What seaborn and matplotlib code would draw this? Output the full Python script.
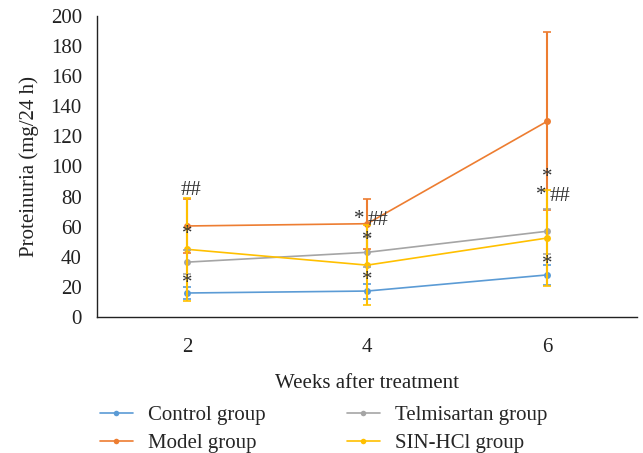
import matplotlib
matplotlib.use("Agg")
import matplotlib.pyplot as plt
import seaborn as sns
import pandas as pd

weeks = [2, 4, 6]
groups = ["Control group", "Model group", "Telmisartan group", "SIN-HCl group"]
control = [16, 17.3, 28]
model = [60.5, 62, 130]
telmisartan = [36.5, 43, 57]
sin_hcl = [45, 34.5, 52.5]
control_err = [4, 5, 6.5]
model_err = [18, 16.5, 59]
telmisartan_err = [8, 10, 15]
sin_hcl_err = [34, 26.5, 32]
colors = ["#5B9BD5", "#ED7D31", "#A5A5A5", "#FFC000"]

# significance annotations
annot_x = [2, 2, 2, 4, 4, 4, 4, 6, 6, 6, 6]
annot_y = [84, 55, 22, 65, 64, 51, 24, 93, 81, 80, 35]
annot_t = ["##", "*", "*", "*", "##", "*", "*", "*", "*", "##", "*"]
annot_dx = [3, 0, 0, -6, 8, 0, 0, 0, -4, 9, 0]  # offsets in points

means = [control, model, telmisartan, sin_hcl]
errs = [control_err, model_err, telmisartan_err, sin_hcl_err]

rows = []
for g, vals in zip(groups, means):
    for w, v in zip(weeks, vals):
        rows.append({"week": w, "value": v, "group": g})
df = pd.DataFrame(rows)

sns.set_style("white")
plt.rcParams["font.family"] = ["Liberation Serif", "DejaVu Serif"]

fig = plt.figure(figsize=(6.43, 4.53), dpi=100)
ax = fig.add_axes([0.151, 0.300, 0.840, 0.665])

sns.lineplot(data=df, x="week", y="value", hue="group", palette=colors,
             hue_order=groups, marker="o", markersize=5, markeredgewidth=0,
             linewidth=1.2, ax=ax, legend=True)

for vals, e, c in zip(means, errs, colors):
    ax.errorbar(weeks, vals, yerr=e, fmt="none", ecolor=c, elinewidth=1.5,
                capsize=3, capthick=1.2, zorder=3)

for x, y, t, dx in zip(annot_x, annot_y, annot_t, annot_dx):
    ax.annotate(t, (x, y), xytext=(dx, 0), textcoords="offset points",
                ha="center", va="center", fontsize=15, color="#333333")

ax.set_xlim(1, 7)
ax.set_ylim(0, 200)
ax.set_xticks(weeks)
ax.set_yticks(range(0, 201, 20))
sns.despine(ax=ax)
for s in ["left", "bottom"]:
    ax.spines[s].set_color("#222222")
    ax.spines[s].set_linewidth(1.0)
ax.tick_params(axis="y", direction="out", length=7, width=1, colors="#222222", labelsize=15, pad=4)
ax.tick_params(axis="x", direction="out", length=7, width=1, colors="#222222", labelsize=15, pad=8)
ax.set_xlabel("Weeks after treatment", fontsize=15, color="#222222", labelpad=12)
ax.set_ylabel("Proteinuria (mg/24 h)", fontsize=15, color="#222222", labelpad=8)

handles, labels = ax.get_legend_handles_labels()
ax.legend_.remove()
fig.legend(handles, labels,
           loc="lower left", bbox_to_anchor=(0.152, -0.005), ncol=2,
           frameon=False, fontsize=15, handlelength=1.6, handletextpad=0.7,
           columnspacing=3.9, labelspacing=0.4, markerscale=0.8,
           borderaxespad=0, borderpad=0.1)

fig.savefig("out.png", dpi=100)
